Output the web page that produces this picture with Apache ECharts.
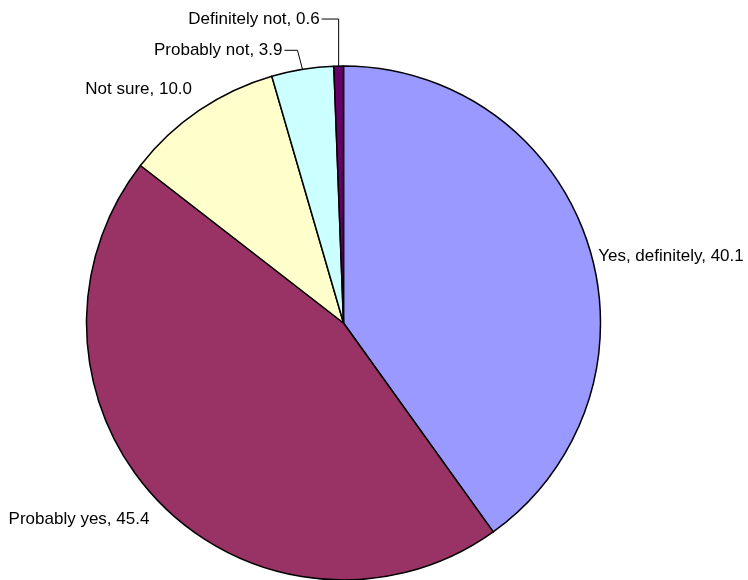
<!DOCTYPE html>
<html>
<head>
<meta charset="utf-8">
<script src="https://cdn.jsdelivr.net/npm/echarts@6/dist/echarts.min.js"></script>
<style>
  html, body { margin: 0; padding: 0; background: #fff; }
  #chart { width: 748px; height: 580px; }
</style>
</head>
<body>
<div id="chart"></div>
<script>
// Survey answers, in clockwise order from 12 o'clock
const categories = ['Yes, definitely', 'Probably yes', 'Not sure', 'Probably not', 'Definitely not'];
const values = [40.1, 45.4, 10.0, 3.9, 0.6];
const colors = ['#9999FF', '#993366', '#FFFFCC', '#CCFFFF', '#660066'];

const CX = 343.5, CY = 323, R = 257;
const total = values.reduce((a, b) => a + b, 0);

// point on the rim at the middle of slice i
function rimPoint(i) {
  let before = 0;
  for (let k = 0; k < i; k++) before += values[k];
  const frac = (before + values[i] / 2) / total;
  const a = frac * 2 * Math.PI;
  return [CX + R * Math.sin(a), CY - R * Math.cos(a)];
}

// label placement relative to each slice's rim point
const labelPlacement = [
  { dx: 10, dy: 12, align: 'left', line: false },
  { dx: -9, dy: 18, align: 'right', line: false },
  { dx: -7, dy: -21, align: 'right', line: false },
  { dx: -20, dy: -19, align: 'right', line: true, elbow: [-5, -19] },
  { dx: -19, dy: -47, align: 'right', line: true, elbow: [0, -47] }
];

const chart = echarts.init(document.getElementById('chart'), null, { renderer: 'canvas' });

chart.setOption({
  animation: false,
  backgroundColor: '#ffffff',
  series: [{
    type: 'pie',
    center: [CX, CY],
    radius: R,
    startAngle: 90,
    clockwise: true,
    avoidLabelOverlap: false,
    emphasis: { disabled: true },
    itemStyle: { borderColor: '#000000', borderWidth: 1.5 },
    label: {
      show: true,
      position: 'outside',
      fontFamily: '"Liberation Sans", Arial, sans-serif',
      fontSize: 17,
      color: '#000000',
      formatter: p => p.name + ', ' + values[p.dataIndex].toFixed(1)
    },
    labelLine: {
      show: true,
      length: 10,
      length2: 10,
      lineStyle: { color: '#000000', width: 1 }
    },
    labelLayout: function (params) {
      const i = params.dataIndex;
      const e = rimPoint(i);
      const pl = labelPlacement[i];
      const out = {
        x: e[0] + pl.dx,
        y: e[1] + pl.dy,
        align: pl.align,
        verticalAlign: 'middle'
      };
      if (pl.line) {
        out.labelLinePoints = [
          [e[0], e[1]],
          [e[0] + pl.elbow[0], e[1] + pl.elbow[1]],
          [e[0] + pl.dx + 2, e[1] + pl.dy]
        ];
      }
      return out;
    },
    data: categories.map((name, i) => ({
      name: name,
      value: values[i],
      itemStyle: { color: colors[i] },
      labelLine: { show: labelPlacement[i].line }
    }))
  }]
});
</script>
</body>
</html>
